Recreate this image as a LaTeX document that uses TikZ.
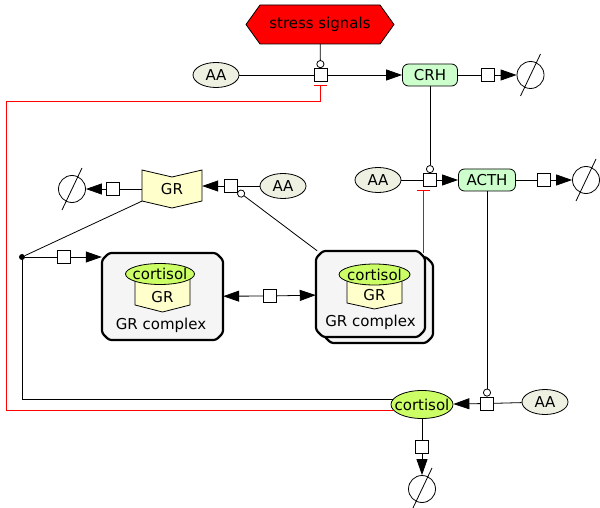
\documentclass[tikz,border=0pt]{standalone}
\usepackage{fontspec}
\setmainfont{DejaVu Sans}
\usetikzlibrary{arrows.meta,shapes.geometric,calc}
\definecolor{aafill}{RGB}{238,240,226}
\definecolor{crhfill}{RGB}{204,255,204}
\definecolor{cortfill}{RGB}{204,255,102}
\definecolor{grfill}{RGB}{255,255,204}
\definecolor{cxfill}{RGB}{245,245,245}
\begin{document}
\begin{tikzpicture}[x=1pt,y=-1pt,
  every node/.style={font=\fontsize{15}{17}\selectfont, inner sep=0pt},
  ln/.style={draw=black, line width=0.8pt},
  conv/.style={ln, -{Triangle[length=16pt,width=11pt]}},
  cat/.style={ln, -{Circle[open,length=8pt,width=8pt,line width=0.8pt]}},
  inh/.style={draw=red, line width=0.8pt, -{Bar[width=13pt,line width=1pt]}, shorten >=3pt},
  proc/.style={draw, fill=white, line width=0.8pt, minimum size=13pt},
  aa/.style={ellipse, draw, fill=aafill, line width=0.8pt, minimum width=46pt, minimum height=25pt},
  prot/.style={rectangle, rounded corners=6pt, draw, fill=crhfill, line width=0.8pt, minimum height=22pt},
  mol/.style={ellipse, draw, fill=cortfill, line width=0.8pt, label={center:#1}},
  emptyset/.style={circle, draw, line width=0.8pt, minimum size=27pt},
  cxs/.style={draw, fill=cxfill, line width=2.2pt, rounded corners=2.5pt, line join=round},
  grshape/.style={fill=grfill, draw, line width=0.8pt}
]
\fill[white] (0,0) rectangle (600,508);
\useasboundingbox (0,0) rectangle (600,508);

% stress signals hexagon
\filldraw[fill=red, line width=0.8pt] (246,24.5) -- (260,5) -- (380,5) -- (394,24.5) -- (380,44) -- (260,44) -- cycle;
\node (stress) at (320,24.5) [minimum width=148pt, minimum height=39pt] {stress signals};

% top row
\node[aa] (aa1) at (216,75) {AA};
\node[proc] (p1) at (320.5,75) {};
\node[prot, minimum width=55pt] (crh) at (430,75) {CRH};
\node[proc] (p2) at (488,75) {};
\node[emptyset] (e1) at (530.5,75) {};

% ACTH row
\node[aa] (aa2) at (378,180) {AA};
\node[proc] (p3) at (430,180) {};
\node[prot, minimum width=57pt] (acth) at (487,180) {ACTH};
\node[proc] (p8) at (543.5,180) {};
\node[emptyset] (e2) at (586,180) {};

% GR row
\filldraw[grshape] (142,170) -- (172,177) -- (202,170) -- (202,201) -- (172,208) -- (142,201) -- cycle;
\node (gr) at (172,189) [minimum width=60pt, minimum height=38pt] {GR};
\node[proc] (p4) at (231,186) {};
\node[aa] (aa4) at (283,186) {AA};
\node[proc] (p7) at (112.5,189) {};
\node[emptyset] (e3) at (72,189) {};

% dot and complexes
\node[circle, fill=black, minimum size=6pt] (dot) at (22,257) {};
\node[proc] (p10) at (64,257) {};
% complex 1 (x 102-223, y 253-340)
\filldraw[cxs] (109,253) -- (216,253) -- (223,260) -- (223,333) -- (216,340) -- (109,340) -- (102,333) -- (102,260) -- cycle;
\node[minimum width=121pt, minimum height=87pt] (c1) at (162.5,296.5) {};
% complex 2 multimer (front x 316-425, y 251-337; back offset 8,6)
\filldraw[cxs] (331,257) -- (426,257) -- (433,264) -- (433,336) -- (426,343) -- (331,343) -- (324,336) -- (324,264) -- cycle;
\filldraw[cxs] (323,251) -- (418,251) -- (425,258) -- (425,330) -- (418,337) -- (323,337) -- (316,330) -- (316,258) -- cycle;
\node[minimum width=109pt, minimum height=86pt] (c2) at (370.5,294) {};
\node[proc] (p5) at (270,296) {};

% complex 1 content
\filldraw[grshape] (135,277) -- (135,305) -- (162.5,312) -- (190,305) -- (190,277) -- cycle;
\node (c1g) at (162.5,297) {GR};
\node[mol=cortisol, minimum width=69pt, minimum height=21pt] (c1m) at (160,274) {};
\node (c1l) at (161,325) {GR complex};

% complex 2 content
\filldraw[grshape] (347,278) -- (347,303) -- (374.5,309) -- (402,303) -- (402,278) -- cycle;
\node (c2g) at (374.5,295.5) {GR};
\node[mol=cortisol, minimum width=71pt, minimum height=21pt] (c2m) at (374.5,274.5) {};
\node (c2l) at (370.5,322) {GR complex};

% cortisol row
\node[mol=cortisol, minimum width=62pt, minimum height=28pt] (cort) at (422,404.5) {};
\node[proc] (p6) at (487,403.5) {};
\node[aa] (aa3) at (545,402) {AA};
\node[proc] (p9) at (422,447) {};
\node[emptyset] (e4) at (422,489) {};

% empty set slashes
\foreach \e in {e1,e2,e3,e4}
  \draw[line width=0.8pt] ([shift={(10,-21)}]\e.center) -- ([shift={(-10,21)}]\e.center);

% connectors: CRH production
\draw[ln] (aa1) -- (p1);
\draw[conv] (p1) -- (crh);
\draw[cat] (stress) -- (p1);
\draw[ln] (crh) -- (p2);
\draw[conv] (p2) -- (e1);

% ACTH production
\draw[ln] (aa2) -- (p3);
\draw[conv] (p3) -- (acth);
\draw[cat] (crh) -- (p3);
\draw[ln] (acth) -- (p8);
\draw[conv] (p8) -- (e2);

% cortisol production
\draw[ln] (aa3) -- (p6);
\draw[conv] (p6) -- (cort);
\draw[cat] (acth) -- (p6);
\draw[ln] (cort) -- (p9);
\draw[conv] (p9) -- (e4);

% GR
\draw[ln] (aa4) -- (p4);
\draw[conv] (p4) -- (p4 -| gr.east);
\draw[cat] (c2.141) -- (p4);
\draw[ln] (gr.west) -- (p7);
\draw[conv] (p7) -- (e3);

% complex formation
\draw[ln] (dot) -- ([yshift=7pt]gr.south west);
\draw[ln] (dot) |- (cort.170);
\draw[ln] (dot) -- (p10);
\draw[conv] (p10) -- (p10 -| c1.west);
\draw[conv] (p5) -- (c1);
\draw[conv] (p5) -- (c2);

% inhibitions
\coordinate (rc) at (6,101);
\draw[inh] (cort.192) -| (rc) -| (p1.south);
\coordinate (r2) at (423,253);
\draw[inh] (r2) -- (r2 |- p3.south);
\end{tikzpicture}
\end{document}
